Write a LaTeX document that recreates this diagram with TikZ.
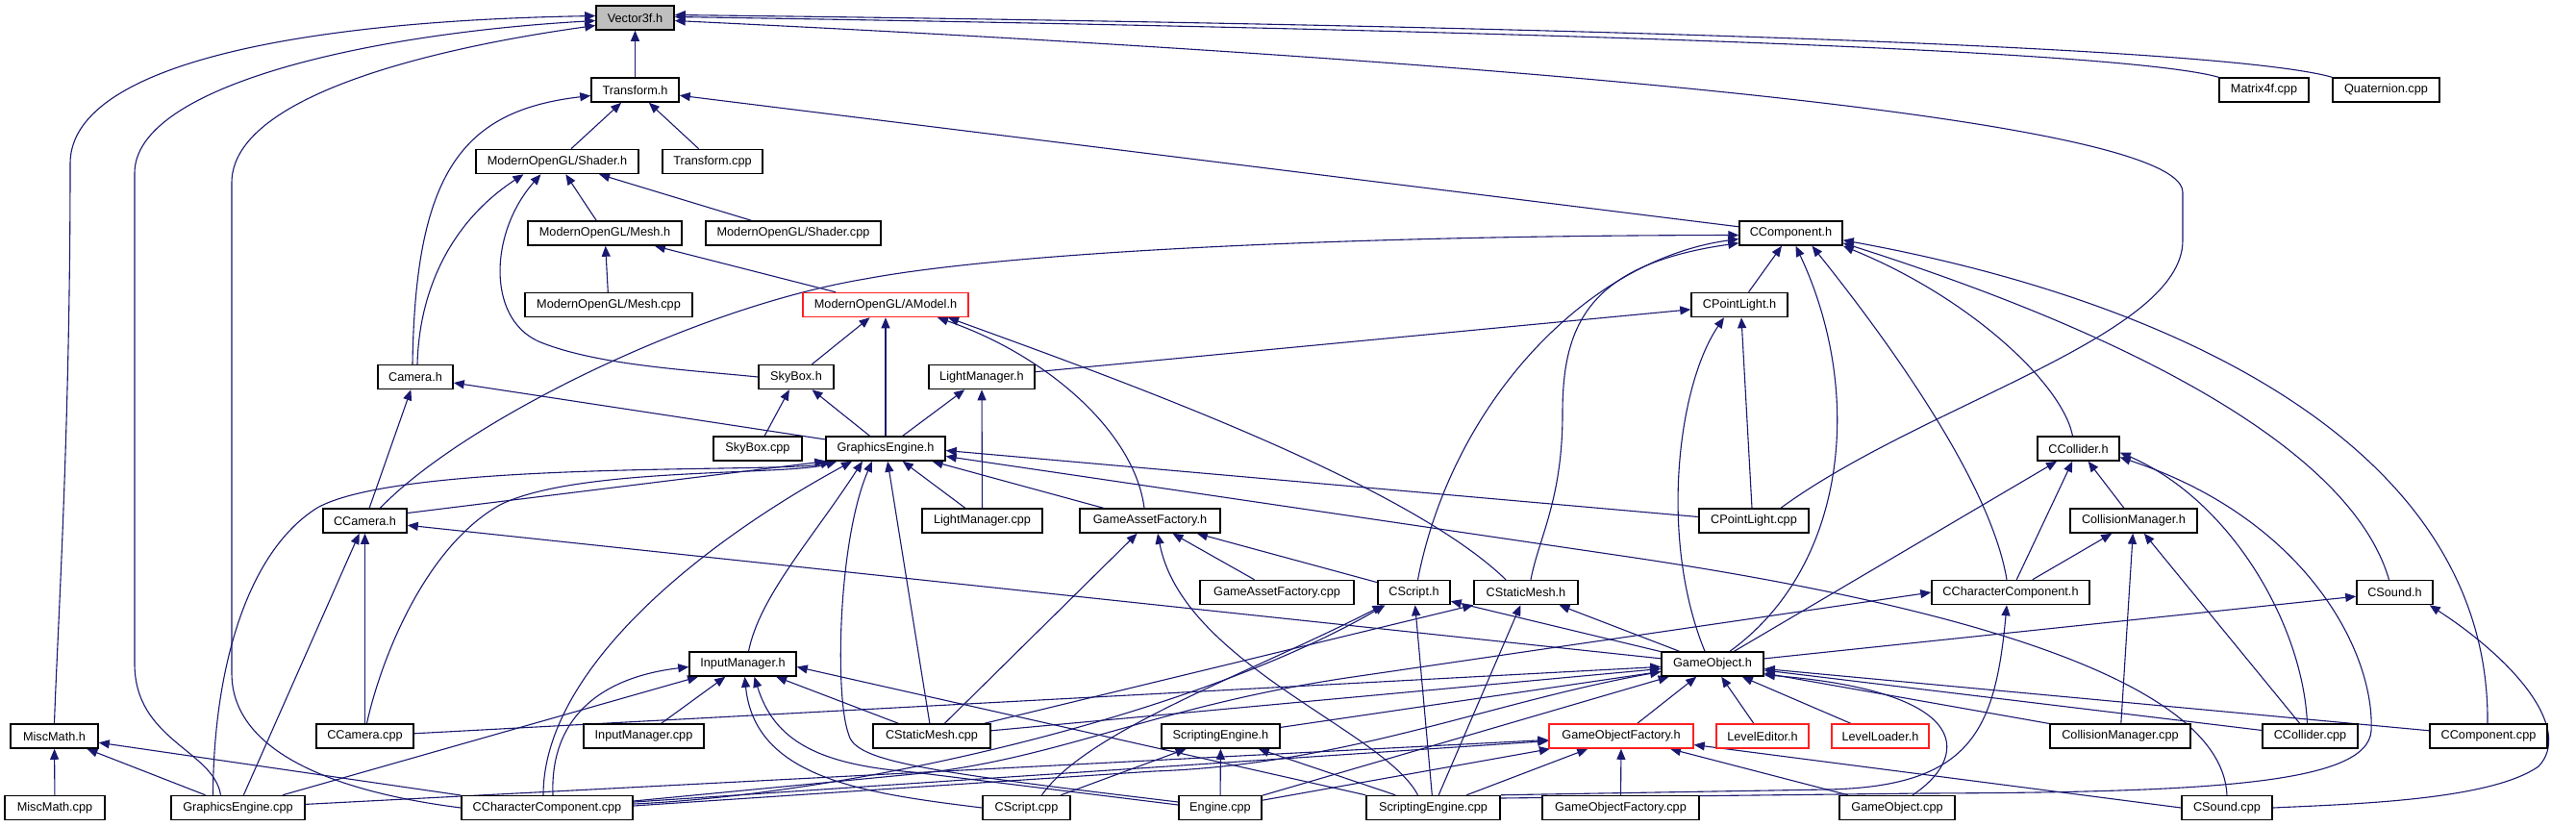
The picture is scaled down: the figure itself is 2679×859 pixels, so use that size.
\documentclass[tikz,border=0pt]{standalone}
\usepackage{fontspec}
\setmainfont{Liberation Sans}
\usetikzlibrary{arrows.meta,calc}
\definecolor{edgeblue}{HTML}{191970}
\definecolor{boxred}{HTML}{FF2020}
\definecolor{grayfill}{HTML}{BFBFBF}
\pgfdeclarelayer{bg}
\pgfsetlayers{bg,main}
\begin{document}
\begin{tikzpicture}[x=0.5pt,y=-0.5pt,
  box/.style={draw=black, line width=0.75pt, fill=white, minimum height=12.5pt, inner sep=1pt,
    font=\fontsize{6.35pt}{7pt}\selectfont, text=black},
  redbox/.style={box, draw=boxred},
  dep/.style={draw=edgeblue, line width=0.55pt, {Triangle[length=5.5pt,width=4.5pt]}-}]
\useasboundingbox (0,0) rectangle (2679,859);
% ---------------- nodes ----------------
\node[box,fill=grayfill,minimum width=40.5pt] (V) at (660.5,18.5) {Vector3f.h};
\node[box,minimum width=45.5pt] (T) at (660.5,93.5) {Transform.h};
\node[box,minimum width=84.5pt] (Sh) at (579.5,168) {ModernOpenGL/Shader.h};
\node[box,minimum width=52pt] (Tcpp) at (741,168) {Transform.cpp};
\node[box,minimum width=80pt] (Me) at (629,242.5) {ModernOpenGL/Mesh.h};
\node[box,minimum width=91pt] (Shcpp) at (825,242.5) {ModernOpenGL/Shader.cpp};
\node[box,minimum width=87pt] (Mecpp) at (633,317) {ModernOpenGL/Mesh.cpp};
\node[redbox,minimum width=86pt] (AM) at (921,317) {ModernOpenGL/AModel.h};
\node[box,minimum width=39pt] (Cam) at (432,392) {Camera.h};
\node[box,minimum width=39pt] (Sky) at (828,392) {SkyBox.h};
\node[box,minimum width=55pt] (LMh) at (1021,392) {LightManager.h};
\node[box,minimum width=53.5pt] (CComp) at (1862.5,242.5) {CComponent.h};
\node[box,minimum width=50pt] (CPLh) at (1809,317) {CPointLight.h};
\node[box,minimum width=46.5pt] (M4) at (2354.5,93.5) {Matrix4f.cpp};
\node[box,minimum width=55.5pt] (Q) at (2481.5,93.5) {Quaternion.cpp};
\node[box,minimum width=46pt] (Skycpp) at (788,466.5) {SkyBox.cpp};
\node[box,minimum width=62pt] (GEh) at (921,466.5) {GraphicsEngine.h};
\node[box,minimum width=42.5pt] (CColh) at (2161.5,466.5) {CCollider.h};
\node[box,minimum width=43.5pt] (CCam) at (379.5,541.5) {CCamera.h};
\node[box,minimum width=62.5pt] (LMcpp) at (1021.5,541.5) {LightManager.cpp};
\node[box,minimum width=73pt] (GAF) at (1196,541.5) {GameAssetFactory.h};
\node[box,minimum width=57pt] (CPLcpp) at (1824,541.5) {CPointLight.cpp};
\node[box,minimum width=66pt] (CMh) at (2219,541.5) {CollisionManager.h};
\node[box,minimum width=80pt] (GAFcpp) at (1328,616) {GameAssetFactory.cpp};
\node[box,minimum width=37.5pt] (CScr) at (1470.5,616) {CScript.h};
\node[box,minimum width=54pt] (CSM) at (1587,616) {CStaticMesh.h};
\node[box,minimum width=82pt] (CChar) at (2091,616) {CCharacterComponent.h};
\node[box,minimum width=39.5pt] (CSnd) at (2490.5,616) {CSound.h};
\node[box,minimum width=55.5pt] (IMh) at (772.5,690.5) {InputManager.h};
\node[box,minimum width=53pt] (GOh) at (1781,690.5) {GameObject.h};
\node[box,minimum width=45.5pt] (MM) at (56.5,765.5) {MiscMath.h};
\node[box,minimum width=50.5pt] (CCamcpp) at (379.5,765.5) {CCamera.cpp};
\node[box,minimum width=62.5pt] (IMcpp) at (669.5,765.5) {InputManager.cpp};
\node[box,minimum width=61pt] (CSMcpp) at (969,765.5) {CStaticMesh.cpp};
\node[box,minimum width=61.5pt] (SEh) at (1269.5,765.5) {ScriptingEngine.h};
\node[redbox,minimum width=75pt] (GOF) at (1686,765.5) {GameObjectFactory.h};
\node[redbox,minimum width=48pt] (LE) at (1833,765.5) {LevelEditor.h};
\node[redbox,minimum width=50.5pt] (LL) at (1955.5,765.5) {LevelLoader.h};
\node[box,minimum width=73pt] (CMcpp) at (2205,765.5) {CollisionManager.cpp};
\node[box,minimum width=49.5pt] (CColcpp) at (2402.5,765.5) {CCollider.cpp};
\node[box,minimum width=61pt] (CCompcpp) at (2588,765.5) {CComponent.cpp};
\node[box,minimum width=52pt] (MMcpp) at (57,840) {MiscMath.cpp};
\node[box,minimum width=69.5pt] (GEcpp) at (247.5,840) {GraphicsEngine.cpp};
\node[box,minimum width=89pt] (CCcpp) at (569,840) {CCharacterComponent.cpp};
\node[box,minimum width=45.5pt] (CScrcpp) at (1067.5,840) {CScript.cpp};
\node[box,minimum width=43pt] (Engcpp) at (1269,840) {Engine.cpp};
\node[box,minimum width=69.5pt] (SEcpp) at (1490.5,840) {ScriptingEngine.cpp};
\node[box,minimum width=81.5pt] (GOFcpp) at (1685.5,840) {GameObjectFactory.cpp};
\node[box,minimum width=60pt] (GOcpp) at (1973,840) {GameObject.cpp};
\node[box,minimum width=47pt] (CSndcpp) at (2316,840) {CSound.cpp};
% ---------------- edges ----------------
\begin{pgfonlayer}{bg}
\fill[white] (0,0) rectangle (2679,859);
% Vector3f.h
\draw[dep] (V) -- (T);
\draw[dep] ($(V.west)+(0,-2)$) .. controls (300,22) and (73,70) .. (73,170) .. controls (73,450) and (60,650) .. (MM.north);
\draw[dep] ($(V.west)+(0,3)$) .. controls (380,35) and (140,90) .. (140,180) -- (140,690) .. controls (140,770) and (222,780) .. ($(GEcpp.north)+(-18,0)$);
\draw[dep] ($(V.west)+(0,8)$) .. controls (450,50) and (241,100) .. (241,190) -- (241,700) .. controls (241,800) and (400,830) .. (CCcpp.west);
\draw[dep] ($(V.east)+(0,-1)$) .. controls (1500,30) and (2200,50) .. (M4.north west);
\draw[dep] ($(V.east)+(0,-3)$) .. controls (1500,25) and (2300,45) .. (Q.north west);
\draw[dep] ($(V.east)+(0,3)$) .. controls (1300,50) and (2270,110) .. (2270,200) -- (2270,250) .. controls (2270,350) and (2000,420) .. ($(CPLcpp.north)+(28,0)$);
% Transform.h
\draw[dep] (T) -- (Sh);
\draw[dep] (T) -- (Tcpp);
\draw[dep] ($(T.west)+(0,6)$) .. controls (480,115) and (432,180) .. ($(Cam.north)+(-3,0)$);
\draw[dep] (T) -- (CComp);
% Shader.h
\draw[dep] (Sh) -- (Me);
\draw[dep] (Sh) -- (Shcpp);
\draw[dep] ($(Sh.south)+(-35,0)$) .. controls (470,230) and (436,300) .. ($(Cam.north)+(2,0)$);
\draw[dep] ($(Sh.south)+(-17,0)$) .. controls (510,240) and (505,330) .. (560,355) .. controls (620,380) and (720,385) .. (Sky.west);
% Mesh.h, AModel.h
\draw[dep] (Me) -- (Mecpp);
\draw[dep] (Me) -- (AM);
\draw[dep] (AM) -- (Sky);
\draw[dep] (AM) -- (GEh);
\draw[dep] ($(AM.south)+(54,0)$) .. controls (1090,370) and (1180,450) .. ($(GAF.north)+(-6,0)$);
\draw[dep] ($(AM.south)+(65,0)$) .. controls (1150,390) and (1460,500) .. ($(CSM.north)+(-21,0)$);
% SkyBox.h, Camera.h, LightManager.h
\draw[dep] (Sky) -- (Skycpp);
\draw[dep] (Sky) -- (GEh);
\draw[dep] (Cam) -- (GEh);
\draw[dep] (Cam) -- (CCam);
\draw[dep] (LMh) -- (GEh);
\draw[dep] (LMh) -- (LMcpp);
% CPointLight.h
\draw[dep] (CPLh) -- (LMh);
\draw[dep] ($(CPLh.south)+(-16,0)$) .. controls (1745,400) and (1725,560) .. ($(GOh.north)+(-8,0)$);
\draw[dep] ($(CPLh.south)+(2,0)$) -- ($(CPLcpp.north)+(-2,0)$);
% CComponent.h
\draw[dep] (CComp) -- (CPLh);
\draw[dep] ($(CComp.west)+(0,2)$) .. controls (1400,245) and (1050,262) .. (900,290) .. controls (720,320) and (480,440) .. ($(CCam.north)+(16,0)$);
\draw[dep] ($(CComp.west)+(0,6)$) .. controls (1650,270) and (1510,420) .. ($(CScr.north)+(4,0)$);
\draw[dep] ($(CComp.south west)+(0,-3)$) .. controls (1650,275) and (1625,340) .. (1625,430) .. controls (1625,520) and (1600,560) .. ($(CSM.north)+(5,0)$);
\draw[dep] ($(CComp.south)+(5,0)$) .. controls (1940,410) and (1920,590) .. ($(GOh.north)+(18,0)$);
\draw[dep] ($(CComp.south)+(22,0)$) .. controls (1960,350) and (2070,500) .. ($(CChar.north)+(-4,0)$);
\draw[dep] (CComp.south east) .. controls (2050,310) and (2145,400) .. ($(CColh.north)+(-6,0)$);
\draw[dep] ($(CComp.south east)+(0,-3)$) .. controls (2160,330) and (2440,450) .. ($(CSnd.north)+(-6,0)$);
\draw[dep] ($(CComp.south east)+(0,-6)$) .. controls (2250,310) and (2590,460) .. ($(CCompcpp.north)+(-1,0)$);
% GraphicsEngine.h
\draw[dep] (GEh.south west) -- ($(CCam.east)+(0,-8)$);
\draw[dep] ($(GEh.south west)+(6,0)$) .. controls (820,492) and (420,478) .. (330,528) .. controls (255,575) and (222,700) .. ($(GEcpp.north)+(-26,0)$);
\draw[dep] ($(GEh.south west)+(12,0)$) .. controls (820,495) and (600,485) .. (520,525) .. controls (440,570) and (395,690) .. ($(CCamcpp.north)+(2,0)$);
\draw[dep] (GEh) -- (LMcpp);
\draw[dep] (GEh) -- (GAF);
\draw[dep] ($(GEh.east)+(0,2)$) -- ($(CPLcpp.west)+(0,-4)$);
\draw[dep] ($(GEh.east)+(0,8)$) -- (1700,580) .. controls (2000,625) and (2310,700) .. (CSndcpp.north);
\draw[dep] ($(GEh.south)+(-24,0)$) .. controls (845,560) and (790,620) .. ($(IMh.north)+(6,0)$);
\draw[dep] ($(GEh.south)+(-35,0)$) .. controls (720,570) and (565,700) .. ($(CCcpp.north)+(-4,0)$);
\draw[dep] ($(GEh.south)+(-14,0)$) .. controls (872,560) and (868,720) .. (882,762) .. controls (888,790) and (940,800) .. ($(Engcpp.west)+(0,-6)$);
\draw[dep] (GEh) -- (CSMcpp);
% GameAssetFactory.h
\draw[dep] (GAF) -- (CSMcpp);
\draw[dep] ($(GAF.south)+(8,0)$) .. controls (1230,690) and (1440,760) .. ($(SEcpp.north)+(-16,0)$);
\draw[dep] (GAF) -- (GAFcpp);
\draw[dep] (GAF) -- (CScr);
% CScript.h
\draw[dep] ($(CScr.south)+(-32,0)$) .. controls (1300,700) and (1130,760) .. ($(CScrcpp.north)+(16,0)$);
\draw[dep] ($(CScr.south)+(-30,0)$) .. controls (1250,740) and (900,825) .. ($(CCcpp.east)+(0,-4)$);
\draw[dep] (CScr) -- (SEcpp);
\draw[dep] (CScr) -- (GOh);
% CStaticMesh.h
\draw[dep] (CSM) -- (CSMcpp);
\draw[dep] (CSM) -- (GOh);
\draw[dep] (CSM) -- (SEcpp);
% CCharacterComponent.h
\draw[dep] (CChar.west) -- (1400,705) .. controls (1200,735) and (1100,790) .. (950,805) -- ($(CCcpp.east)+(0,-7)$);
\draw[dep] ($(CChar.south)+(-4,0)$) .. controls (2075,760) and (2050,818) .. (1900,821) -- (SEcpp.north east);
% CCollider.h
\draw[dep] (CColh) -- (GOh);
\draw[dep] (CColh) -- (CChar);
\draw[dep] (CColh) -- (CMh);
\draw[dep] ($(CColh.east)+(0,4)$) .. controls (2320,520) and (2395,650) .. ($(CColcpp.north)+(-3,0)$);
\draw[dep] ($(CColh.east)+(0,9)$) .. controls (2400,540) and (2470,680) .. (2466,760) .. controls (2462,815) and (2300,824) .. (2000,825) -- ($(SEcpp.east)+(0,-10)$);
% CollisionManager.h
\draw[dep] (CMh) -- (CChar);
\draw[dep] (CMh) -- (CMcpp);
\draw[dep] (CMh) -- (CColcpp);
% CSound.h
\draw[dep] (CSnd) -- (GOh);
\draw[dep] ($(CSnd.south east)+(-4,0)$) .. controls (2620,690) and (2675,760) .. (2640,797) .. controls (2590,832) and (2450,836) .. (CSndcpp.east);
% GameObject.h
\draw[dep] (GOh) -- (LE);
\draw[dep] (GOh) -- (LL);
\draw[dep] (GOh) -- (GOF);
\draw[dep] (GOh) -- (CMcpp);
\draw[dep] (GOh) -- (CColcpp);
\draw[dep] (GOh) -- (CCompcpp);
\draw[dep] ($(GOh.south east)+(0,-2)$) .. controls (2060,720) and (2045,790) .. ($(GOcpp.north)+(16,0)$);
\draw[dep] (GOh) -- (CCamcpp);
\draw[dep] (GOh) -- (CSMcpp);
\draw[dep] (GOh) -- (SEh);
\draw[dep] ($(GOh.west)+(0,8)$) .. controls (1550,730) and (1400,795) .. (1200,802) -- ($(CCcpp.east)+(0,-2)$);
\draw[dep] (GOh) -- (Engcpp);
% CCamera.h
\draw[dep] (CCam) -- (GOh);
\draw[dep] (CCam) -- (GEcpp);
\draw[dep] (CCam) -- (CCamcpp);
% MiscMath.h
\draw[dep] (MM) -- (MMcpp);
\draw[dep] (MM) -- (GEcpp);
\draw[dep] (MM) -- (CCcpp);
% InputManager.h
\draw[dep] ($(IMh.west)+(0,3)$) .. controls (620,705) and (572,750) .. ($(CCcpp.north)+(6,0)$);
\draw[dep] (IMh) -- (GEcpp);
\draw[dep] (IMh) -- (IMcpp);
\draw[dep] ($(IMh.south)+(2,0)$) .. controls (785,810) and (900,825) .. (CScrcpp.west);
\draw[dep] ($(IMh.south)+(12,0)$) .. controls (805,770) and (850,795) .. (950,803) -- ($(Engcpp.west)+(0,-3)$);
\draw[dep] (IMh) -- (CSMcpp);
\draw[dep] ($(IMh.east)+(0,3)$) -- (SEcpp.north west);
% ScriptingEngine.h
\draw[dep] (SEh) -- (CScrcpp);
\draw[dep] (SEh) -- (Engcpp);
\draw[dep] (SEh) -- (SEcpp);
% GameObjectFactory.h
\draw[dep] (GOF) -- (GEcpp);
\draw[dep] (GOF) -- (CCcpp);
\draw[dep] (GOF) -- (Engcpp);
\draw[dep] (GOF) -- (SEcpp);
\draw[dep] (GOF) -- (GOFcpp);
\draw[dep] (GOF) -- (GOcpp);
\draw[dep] ($(GOF.east)+(0,9)$) -- (CSndcpp.west);
\end{pgfonlayer}
\end{tikzpicture}
\end{document}
